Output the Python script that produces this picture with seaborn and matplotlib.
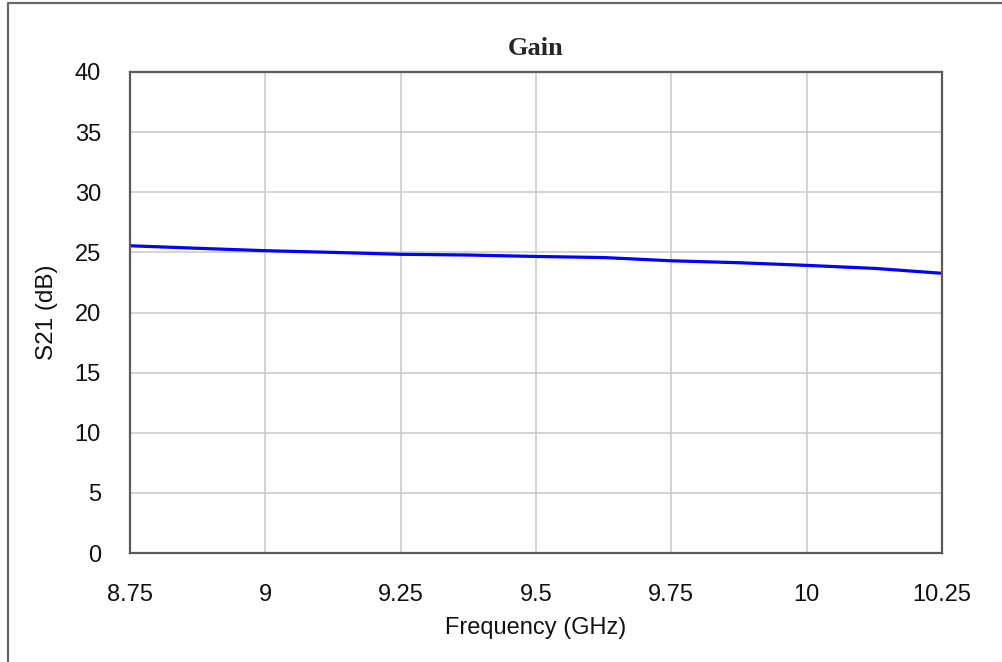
import matplotlib
matplotlib.use("Agg")
import matplotlib.pyplot as plt
import seaborn as sns
import pandas as pd
from matplotlib.lines import Line2D

freq_ghz = [8.75, 8.875, 9.0, 9.125, 9.25, 9.375, 9.5, 9.625, 9.75, 9.875, 10.0, 10.125, 10.25]
s21_db = [25.55, 25.34, 25.14, 25.0, 24.84, 24.78, 24.66, 24.57, 24.3, 24.14, 23.92, 23.67, 23.26]
x_ticks = [8.75, 9.0, 9.25, 9.5, 9.75, 10.0, 10.25]
x_tick_labels = ["8.75", "9", "9.25", "9.5", "9.75", "10", "10.25"]
y_ticks = [0, 5, 10, 15, 20, 25, 30, 35, 40]

sns.set_style("white")
plt.rcParams['font.family'] = ['Liberation Sans', 'DejaVu Sans']

df = pd.DataFrame({"Frequency (GHz)": freq_ghz, "S21 (dB)": s21_db})

fig = plt.figure(figsize=(10.02, 6.62), dpi=100)
ax = fig.add_axes([130/1002, 1 - 553/662, (942-130)/1002, (553-72)/662])

sns.lineplot(data=df, x="Frequency (GHz)", y="S21 (dB)", ax=ax, color="#0000ff", linewidth=2.3)

ax.set_xlim(8.75, 10.25)
ax.set_ylim(0, 40)
ax.set_xticks(x_ticks)
ax.set_xticklabels(x_tick_labels)
ax.set_yticks(y_ticks)
ax.grid(True, color="#c8c8c8", linewidth=1.1)
ax.set_axisbelow(True)
for s in ax.spines.values():
    s.set_visible(True)
    s.set_color("#5a5a5a")
    s.set_linewidth(1.6)

ax.tick_params(axis="both", length=0, labelsize=17, colors="#111111")
ax.tick_params(axis="x", pad=22)
ax.tick_params(axis="y", pad=21)
ax.set_xlabel("Frequency (GHz)", fontsize=17, labelpad=8, color="#111111")
ax.set_ylabel("S21 (dB)", fontsize=17.5, labelpad=12, color="#111111")
ax.set_title("Gain", fontsize=19, fontweight="bold", family=["Liberation Serif", "DejaVu Serif"], pad=12)

fig.add_artist(Line2D([8/1002, 8/1002], [0, 1 - 3/662], transform=fig.transFigure, color="#666666", linewidth=1.6))
fig.add_artist(Line2D([8/1002, 1.0], [1 - 3/662, 1 - 3/662], transform=fig.transFigure, color="#666666", linewidth=1.6))

fig.savefig("out.png", dpi=100, facecolor="white")
